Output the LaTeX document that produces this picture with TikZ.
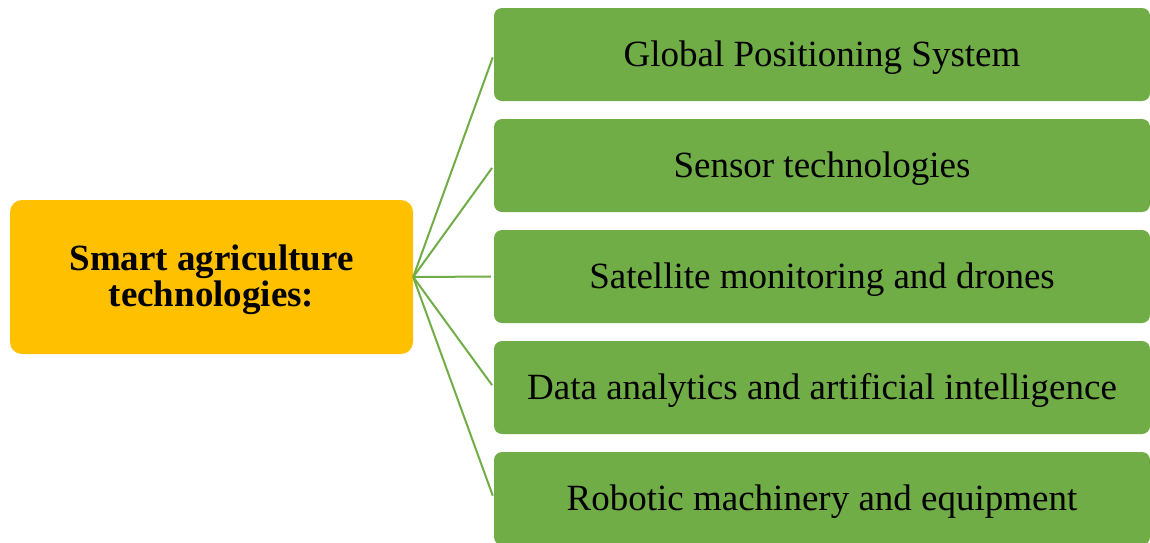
\documentclass[tikz,border=0pt]{standalone}
\usepackage{fontspec}
\setmainfont{Liberation Serif}
\definecolor{leafgreen}{HTML}{70AD47}
\definecolor{amber}{HTML}{FFC000}
\tikzset{
  hubbox/.style={fill=amber, rounded corners=12pt, minimum width=403pt, minimum height=154pt,
    align=center, inner sep=0pt, text depth=3pt, font=\fontsize{37}{36}\selectfont\bfseries},
  techbox/.style={fill=leafgreen, rounded corners=8pt, minimum width=656pt, minimum height=93pt,
    inner sep=0pt, text height=25pt, text depth=2pt, font=\fontsize{37}{40}\selectfont},
  spoke/.style={draw=leafgreen, line width=2pt, shorten >=3pt}
}
\begin{document}
\begin{tikzpicture}[x=1pt, y=-1pt]
  \useasboundingbox (0,0) rectangle (1150,542);
  \clip (0,0) rectangle (1150,542);
  % central topic
  \node[hubbox] (hub) at (211.5,277) {Smart agriculture\\technologies:};
  % technology list
  \node[techbox] (gps)   at (822,54.5)  {Global Positioning System};
  \node[techbox] (sens)  at (822,165.5) {Sensor technologies};
  \node[techbox] (sat)   at (822,276.5) {Satellite monitoring and drones};
  \node[techbox] (data)  at (822,387.5) {Data analytics and artificial intelligence};
  \node[techbox] (robot) at (822,498.5) {Robotic machinery and equipment};
  % spokes from the hub to each item
  \foreach \t in {gps,sens,sat,data,robot}
    \draw[spoke] (hub.east) -- (\t.west);
\end{tikzpicture}
\end{document}
